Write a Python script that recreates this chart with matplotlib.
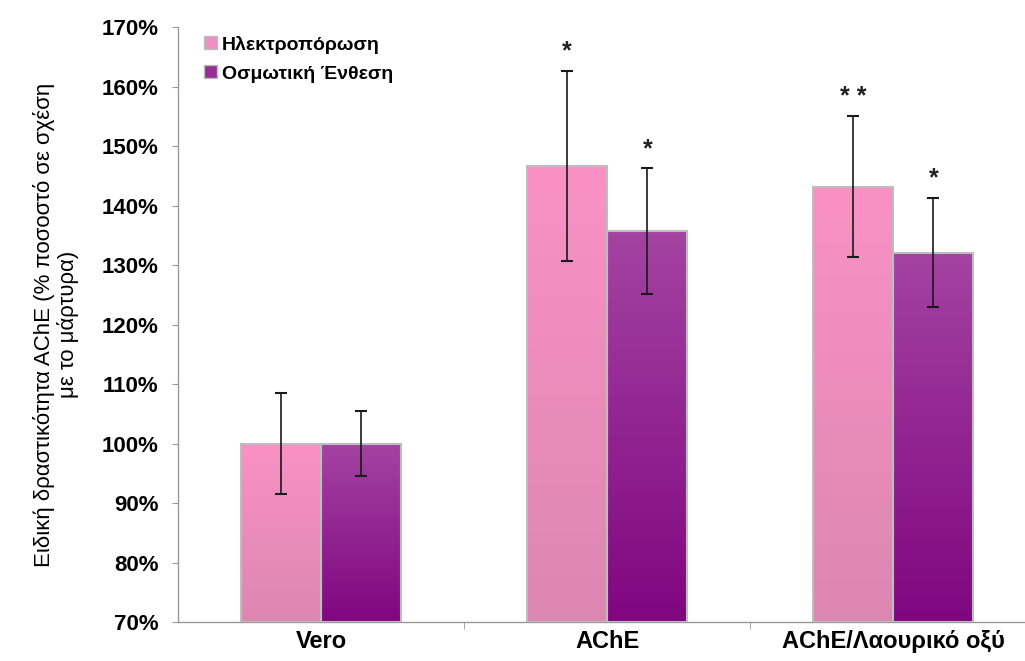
import numpy as np
import matplotlib.pyplot as plt
from matplotlib.colors import LinearSegmentedColormap
from matplotlib.patches import Patch
from matplotlib.ticker import FuncFormatter

plt.rcParams["font.family"] = ["Liberation Sans", "DejaVu Sans"]

categories = ["Vero", "AChE", "AChE/Λαουρικό οξύ"]
series_names = ["Ηλεκτροπόρωση", "Οσμωτική Ένθεση"]
electro_vals = [100.0, 146.7, 143.2]
electro_err = [8.5, 16.0, 11.8]
osmotic_vals = [100.0, 135.7, 132.1]
osmotic_err = [5.4, 10.6, 9.2]
electro_marks = ["", "*", "* *"]
osmotic_marks = ["", "*", "*"]

pink_cmap = LinearSegmentedColormap.from_list("pink", ["#DC87B1", "#FA91C5"])
purple_cmap = LinearSegmentedColormap.from_list("purple", ["#800680", "#A443A2"])

fig = plt.figure(figsize=(10.25, 6.61), dpi=100)
ax = fig.add_axes([0.1737, 0.059, 0.8263, 0.9])

ymin, ymax = 70, 170
width = 0.28
x = np.arange(len(categories))
grad = np.linspace(0, 1, 256).reshape(-1, 1)


def draw_bars(offset, vals, errs, marks, cmap):
    for xi, v, e, m in zip(x, vals, errs, marks):
        left = xi + offset - width / 2
        ax.imshow(grad, cmap=cmap, origin="lower", aspect="auto",
                  extent=[left, left + width, ymin, v], zorder=2)
        ax.bar(xi + offset, v - ymin, width, bottom=ymin, facecolor="none",
               edgecolor="#BDBDBD", linewidth=1.5, zorder=3)
        ax.errorbar(xi + offset, v, yerr=e, fmt="none", ecolor="#1a1a1a",
                    elinewidth=1.2, capsize=4, capthick=1.5, zorder=4)
        if m:
            ax.text(xi + offset, v + e + 1.2, m, ha="center", va="bottom",
                    fontsize=18, fontweight="bold", color="#222222")


draw_bars(-width / 2, electro_vals, electro_err, electro_marks, pink_cmap)
draw_bars(width / 2, osmotic_vals, osmotic_err, osmotic_marks, purple_cmap)

ax.set_xlim(-0.5, 2.46)
ax.set_ylim(ymin, ymax)
ax.set_yticks(np.arange(70, 171, 10))
ax.yaxis.set_major_formatter(FuncFormatter(lambda v, p: f"{v:.0f}%"))
ax.set_xticks(x)
ax.set_xticklabels(categories, fontsize=17, fontweight="bold")
ax.set_xticks([0.5, 1.5], minor=True)
ax.tick_params(axis="x", which="major", length=0, pad=6)
ax.tick_params(axis="x", which="minor", length=5, color="#999999")
ax.tick_params(axis="y", length=4, color="#999999", labelsize=16, pad=10)
for lab in ax.get_yticklabels():
    lab.set_fontweight("bold")

for side in ["top", "right"]:
    ax.spines[side].set_visible(False)
for side in ["left", "bottom"]:
    ax.spines[side].set_color("#999999")
    ax.spines[side].set_linewidth(1.0)

ax.set_ylabel("Ειδική δραστικότητα AChE (% ποσοστό σε σχέση\nμε το μάρτυρα)",
              fontsize=16, labelpad=16, linespacing=1.15)

handles = [Patch(facecolor="#EE90C2", edgecolor="#BDBDBD", label=series_names[0]),
           Patch(facecolor="#962E94", edgecolor="#BDBDBD", label=series_names[1])]
ax.legend(handles=handles, loc="upper left", bbox_to_anchor=(0.01, 1.015),
          frameon=False, prop={"weight": "bold", "size": 14},
          handlelength=0.65, handleheight=0.65, handletextpad=0.25, labelspacing=0.6)

fig.savefig("out.png", dpi=100)
